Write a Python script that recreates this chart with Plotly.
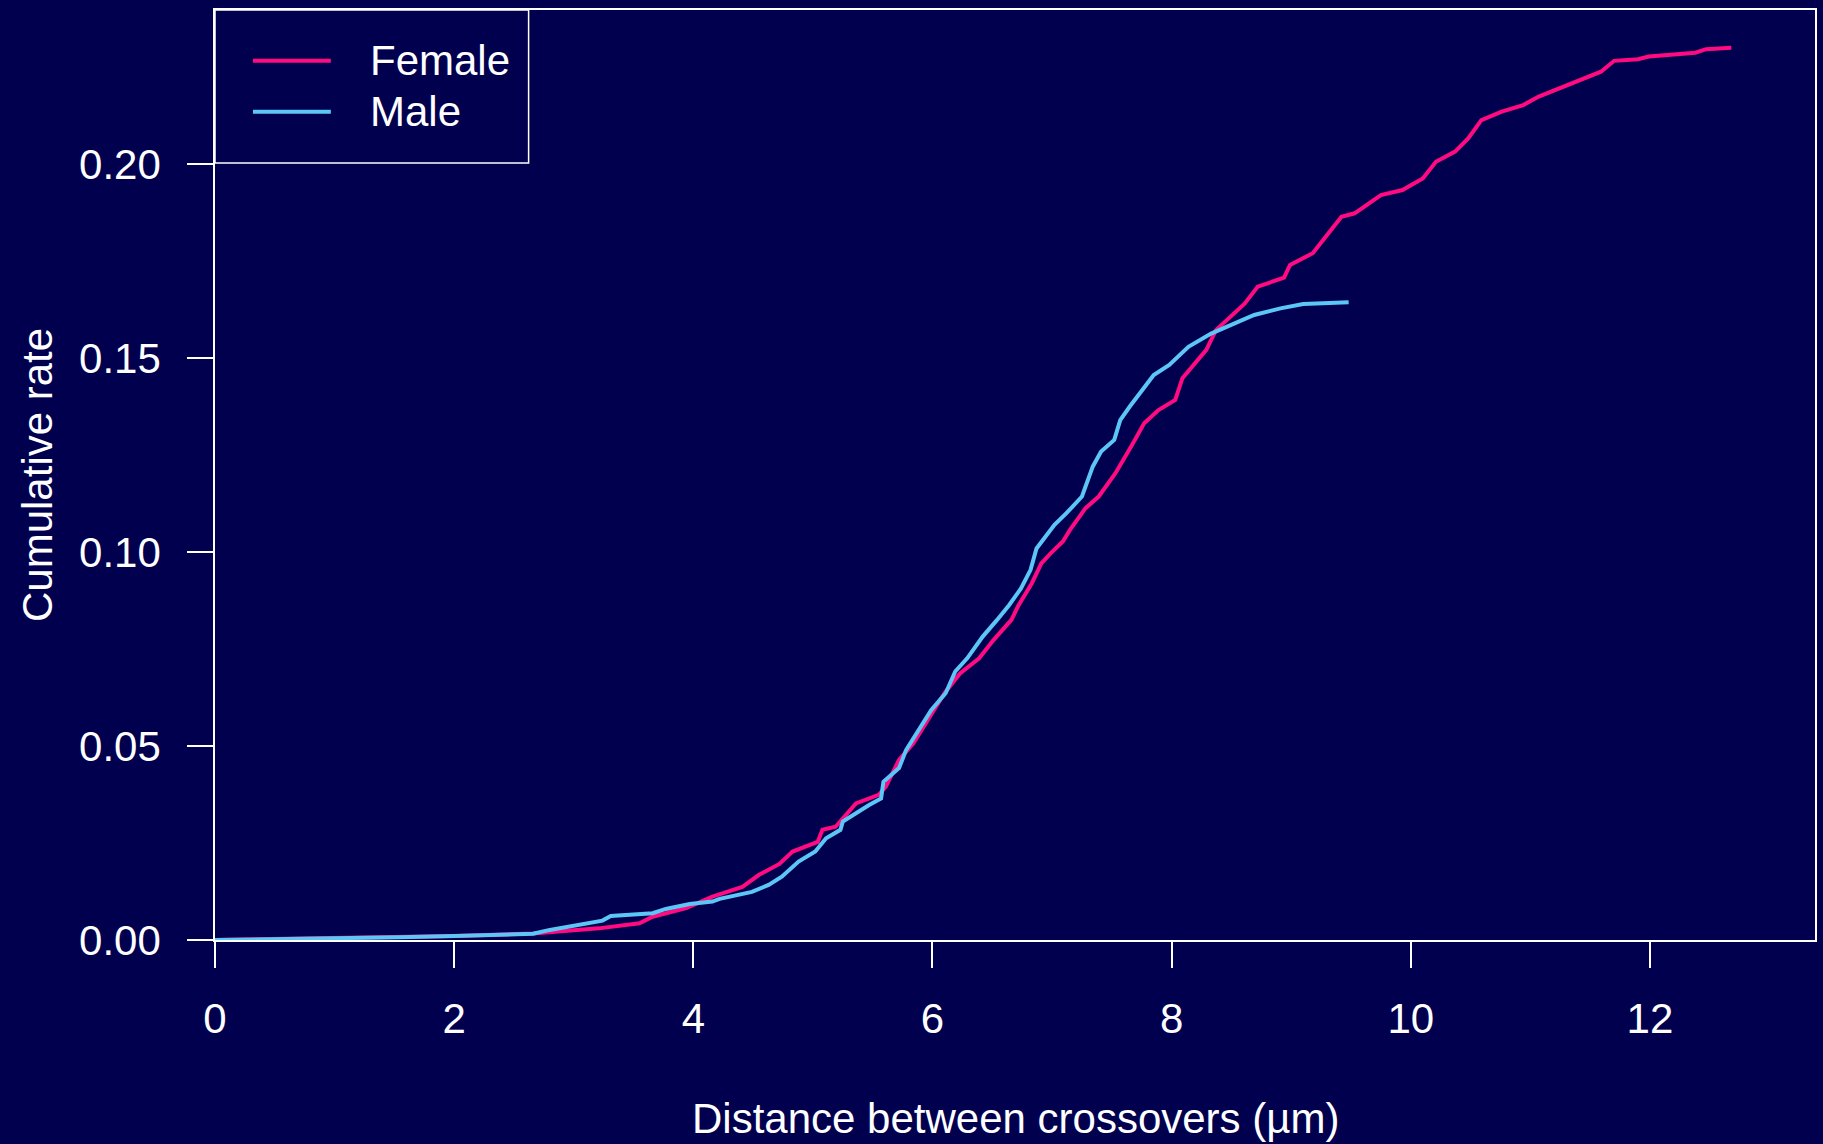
import plotly.graph_objects as go

# ---------------- data ----------------
female_x = [0, 1.0, 2.0, 2.66, 3.21, 3.55, 3.66, 3.94, 4.16, 4.41, 4.55, 4.72, 4.83, 5.04, 5.08,
            5.19, 5.36, 5.55, 5.61, 5.72, 5.84, 6.10, 6.23, 6.39, 6.51, 6.66, 6.72, 6.83, 6.91,
            6.99, 7.09, 7.15, 7.28, 7.39, 7.53, 7.66, 7.77, 7.89, 8.03, 8.09, 8.17, 8.29, 8.37,
            8.49, 8.61, 8.72, 8.94, 8.99, 9.18, 9.29, 9.42, 9.53, 9.75, 9.93, 10.10, 10.21,
            10.37, 10.48, 10.59, 10.76, 10.94, 11.07, 11.24, 11.42, 11.59, 11.70, 11.90, 11.99,
            12.38, 12.47, 12.68]
female_y = [0, 0.0004, 0.0010, 0.0017, 0.0030, 0.0043, 0.0060, 0.0082, 0.0112, 0.0137, 0.0168,
            0.0196, 0.0228, 0.0253, 0.0284, 0.0292, 0.0352, 0.0374, 0.0395, 0.0464, 0.0507,
            0.0636, 0.0687, 0.0726, 0.0773, 0.0825, 0.0863, 0.0919, 0.0971, 0.0997, 0.1027,
            0.1057, 0.1113, 0.1143, 0.1203, 0.1271, 0.1332, 0.1366, 0.1392, 0.1448, 0.1478,
            0.1521, 0.1572, 0.1605, 0.1640, 0.1684, 0.1707, 0.1740, 0.1770, 0.1813, 0.1864,
            0.1873, 0.1920, 0.1933, 0.1963, 0.2006, 0.2032, 0.2066, 0.2113, 0.2135, 0.2152,
            0.2174, 0.2195, 0.2218, 0.2238, 0.2266, 0.2270, 0.2277, 0.2287, 0.2296, 0.2300]

male_x = [0, 1.0, 1.54, 2.0, 2.66, 2.80, 3.05, 3.24, 3.31, 3.66, 3.77, 3.97, 4.16, 4.22, 4.49,
          4.63, 4.74, 4.88, 5.02, 5.11, 5.23, 5.25, 5.47, 5.57, 5.59, 5.72, 5.78, 5.99, 6.11,
          6.19, 6.29, 6.42, 6.54, 6.64, 6.74, 6.82, 6.87, 7.02, 7.12, 7.25, 7.34, 7.41, 7.52,
          7.57, 7.65, 7.77, 7.85, 7.98, 8.14, 8.33, 8.49, 8.69, 8.91, 9.10, 9.48]
male_y = [0, 0.0003, 0.0007, 0.0010, 0.0016, 0.0026, 0.0039, 0.0050, 0.0062, 0.0069, 0.0080,
          0.0093, 0.0099, 0.0106, 0.0124, 0.0142, 0.0163, 0.0202, 0.0228, 0.0262, 0.0284,
          0.0305, 0.0348, 0.0365, 0.0408, 0.0443, 0.0490, 0.0593, 0.0636, 0.0692, 0.0726,
          0.0782, 0.0825, 0.0863, 0.0906, 0.0954, 0.1009, 0.1070, 0.1100, 0.1143, 0.1220,
          0.1259, 0.1289, 0.1340, 0.1375, 0.1426, 0.1456, 0.1482, 0.1529, 0.1563, 0.1585,
          0.1611, 0.1628, 0.1639, 0.1644]

x_ticks = [0, 2, 4, 6, 8, 10, 12]
y_ticks = [0.00, 0.05, 0.10, 0.15, 0.20]
y_tick_labels = ["0.00", "0.05", "0.10", "0.15", "0.20"]
series_names = ["Female", "Male"]

# ---------------- style ----------------
BG = "#00004F"
FEMALE_C = "#FF0A80"
MALE_C = "#5CC6F6"
FONT = "Liberation Sans, Arial, Helvetica, sans-serif"
FS = 42
LW = 4

W, H = 1823, 1144
ML, MR, MT, MB = 215, 6, 10, 204
PW = W - ML - MR
PH = H - MT - MB

fig = go.Figure()
fig.add_trace(go.Scatter(x=female_x, y=female_y, mode="lines", name=series_names[0],
                         line=dict(color=FEMALE_C, width=LW), showlegend=False))
fig.add_trace(go.Scatter(x=male_x, y=male_y, mode="lines", name=series_names[1],
                         line=dict(color=MALE_C, width=LW), showlegend=False))

def px_x(p):
    return (p - ML) / PW

def px_y(p):
    return (H - MB - p) / PH

# legend drawn as box + line samples + text
shapes = [
    dict(type="rect", xref="paper", yref="paper", x0=0, x1=px_x(529), y0=px_y(163), y1=1,
         line=dict(color="white", width=1.5), fillcolor=BG, layer="above"),
]
annotations = []
for name, col, yy in [(series_names[0], FEMALE_C, 60.7), (series_names[1], MALE_C, 111.7)]:
    shapes.append(dict(type="line", xref="paper", yref="paper", x0=px_x(253), x1=px_x(331),
                       y0=px_y(yy), y1=px_y(yy), line=dict(color=col, width=LW), layer="above"))
    annotations.append(dict(text=name, xref="paper", yref="paper", x=px_x(368), y=px_y(yy),
                            xanchor="left", yanchor="middle", showarrow=False,
                            font=dict(family=FONT, size=FS, color="white")))

# axis titles
annotations.append(dict(text="Distance between crossovers (µm)", xref="paper", yref="paper",
                        x=0.5, y=0, xanchor="center", yanchor="middle", yshift=-178,
                        showarrow=False, font=dict(family=FONT, size=FS, color="white")))
annotations.append(dict(text="Cumulative rate", xref="paper", yref="paper",
                        x=0, y=0.5, xanchor="center", yanchor="middle", xshift=-(ML - 37),
                        textangle=-90, showarrow=False,
                        font=dict(family=FONT, size=FS, color="white")))

fig.update_layout(
    width=W, height=H, autosize=False,
    margin=dict(l=ML, r=MR, t=MT, b=MB, pad=0),
    paper_bgcolor=BG, plot_bgcolor=BG,
    font=dict(family=FONT, size=FS, color="white"),
    shapes=shapes, annotations=annotations,
    showlegend=False,
)
fig.update_xaxes(range=[0, 13.38], tickvals=x_ticks, ticktext=[str(v) for v in x_ticks],
                 ticks="outside", ticklen=26, tickwidth=1.5, tickcolor="white",
                 showline=True, linecolor="white", linewidth=1.5, mirror=True,
                 showgrid=False, zeroline=False, ticklabelstandoff=15,
                 tickfont=dict(family=FONT, size=FS, color="white"))
fig.update_yaxes(range=[0, 0.2397], tickvals=y_ticks, ticktext=y_tick_labels,
                 ticks="outside", ticklen=26, tickwidth=1.5, tickcolor="white",
                 showline=True, linecolor="white", linewidth=1.5, mirror=True,
                 showgrid=False, zeroline=False, ticklabelstandoff=18,
                 tickfont=dict(family=FONT, size=FS, color="white"))

fig.write_html("out.html",
               config={"displayModeBar": False},
               post_script="document.body.style.margin='0px';"
                           "document.body.style.overflow='hidden';"
                           "document.body.style.background='" + BG + "';")
